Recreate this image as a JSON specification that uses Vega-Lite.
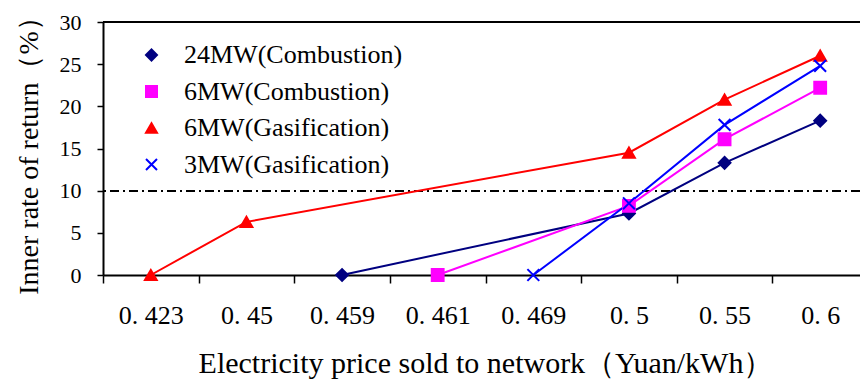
{
  "$schema": "https://vega.github.io/schema/vega-lite/v6.json",
  "width": 757,
  "height": 253,
  "autosize": "none",
  "padding": {"left": 103, "top": 22, "right": 0, "bottom": 108},
  "background": "white",
  "config": {"view": {"stroke": null}, "font": "Liberation Serif, Times New Roman, DejaVu Serif, serif"},
  "data": {
    "values": [
      {"series": "24MW(Combustion)", "price": "0.459", "irr": 0},
      {"series": "24MW(Combustion)", "price": "0.5", "irr": 7.3},
      {"series": "24MW(Combustion)", "price": "0.55", "irr": 13.3},
      {"series": "24MW(Combustion)", "price": "0.6", "irr": 18.3},
      {"series": "6MW(Combustion)", "price": "0.461", "irr": 0},
      {"series": "6MW(Combustion)", "price": "0.5", "irr": 8.2},
      {"series": "6MW(Combustion)", "price": "0.55", "irr": 16.1},
      {"series": "6MW(Combustion)", "price": "0.6", "irr": 22.2},
      {"series": "6MW(Gasification)", "price": "0.423", "irr": 0},
      {"series": "6MW(Gasification)", "price": "0.45", "irr": 6.3},
      {"series": "6MW(Gasification)", "price": "0.5", "irr": 14.5},
      {"series": "6MW(Gasification)", "price": "0.55", "irr": 20.8},
      {"series": "6MW(Gasification)", "price": "0.6", "irr": 26.0},
      {"series": "3MW(Gasification)", "price": "0.469", "irr": 0},
      {"series": "3MW(Gasification)", "price": "0.5", "irr": 8.5},
      {"series": "3MW(Gasification)", "price": "0.55", "irr": 17.8},
      {"series": "3MW(Gasification)", "price": "0.6", "irr": 24.8}
    ]
  },
  "layer": [
    {
      "mark": {"type": "rule", "color": "black", "strokeDash": [9, 4, 2, 4], "strokeWidth": 1.5},
      "encoding": {"y": {"datum": 10, "type": "quantitative"}}
    },
    {
      "mark": {"type": "rule", "color": "black", "strokeWidth": 2},
      "encoding": {"y": {"datum": 30, "type": "quantitative"}}
    },
    {
      "mark": {"type": "line", "strokeWidth": 2},
      "encoding": {
        "x": {
          "field": "price", "type": "ordinal",
          "sort": ["0.423", "0.45", "0.459", "0.461", "0.469", "0.5", "0.55", "0.6"],
          "scale": {"type": "band", "domain": ["0.423", "0.45", "0.459", "0.461", "0.469", "0.5", "0.55", "0.6"], "paddingInner": 0, "paddingOuter": 0, "range": [0, 765]},
          "axis": {
            "tickBand": "extent", "grid": false, "labelAngle": 0,
            "domainColor": "black", "domainWidth": 2,
            "tickColor": "black", "tickWidth": 1.5, "tickSize": 8,
            "encode": {"ticks": {"update": {"y2": {"value": -8}}}},
            "labelFontSize": 26, "labelColor": "black",
            "labelPadding": 19,
            "labelExpr": "replace(datum.label, '.', '. ')",
            "title": "Electricity price sold to network（Yuan/kWh）",
            "titleFontSize": 30, "titleFontWeight": "normal",
            "titleColor": "black", "titlePadding": 20
          }
        },
        "y": {
          "field": "irr", "type": "quantitative",
          "scale": {"domain": [0, 30], "nice": false},
          "axis": {
            "values": [0, 5, 10, 15, 20, 25, 30], "grid": false,
            "domainColor": "black", "domainWidth": 2,
            "tickColor": "black", "tickWidth": 1.5, "tickSize": 6,
            "labelFontSize": 22, "labelColor": "black",
            "labelPadding": 16,
            "title": "Inner rate of return（%）",
            "titleFontSize": 28, "titleFontWeight": "normal",
            "titleColor": "black", "titlePadding": 16
          }
        },
        "color": {
          "field": "series", "type": "nominal",
          "scale": {
            "domain": ["24MW(Combustion)", "6MW(Combustion)", "6MW(Gasification)", "3MW(Gasification)"],
            "range": ["#000080", "#FF00FF", "#FF0000", "#0000FF"]
          },
          "legend": {
            "orient": "none", "legendX": 35.5, "legendY": 20,
            "title": null, "padding": 0,
            "labelFontSize": 26, "labelColor": "black",
            "labelLimit": 400,
            "labelOffset": 19.5, "rowPadding": 10.5, "symbolSize": 121,
            "symbolStrokeWidth": 2
          }
        }
      }
    },
    {
      "mark": {"type": "point", "filled": false, "opacity": 1, "size": 140, "strokeWidth": 2},
      "encoding": {
        "x": {"field": "price", "type": "ordinal", "sort": ["0.423", "0.45", "0.459", "0.461", "0.469", "0.5", "0.55", "0.6"]},
        "y": {"field": "irr", "type": "quantitative"},
        "color": {"field": "series", "type": "nominal", "legend": null},
        "fill": {
          "field": "series", "type": "nominal",
          "scale": {
            "domain": ["24MW(Combustion)", "6MW(Combustion)", "6MW(Gasification)", "3MW(Gasification)"],
            "range": ["#000080", "#FF00FF", "#FF0000", "transparent"]
          },
          "legend": null
        },
        "shape": {
          "field": "series", "type": "nominal",
          "scale": {
            "domain": ["24MW(Combustion)", "6MW(Combustion)", "6MW(Gasification)", "3MW(Gasification)"],
            "range": ["diamond", "square", "triangle-up", "M-1,-1L1,1M-1,1L1,-1"]
          },
          "legend": null
        }
      }
    }
  ]
}
